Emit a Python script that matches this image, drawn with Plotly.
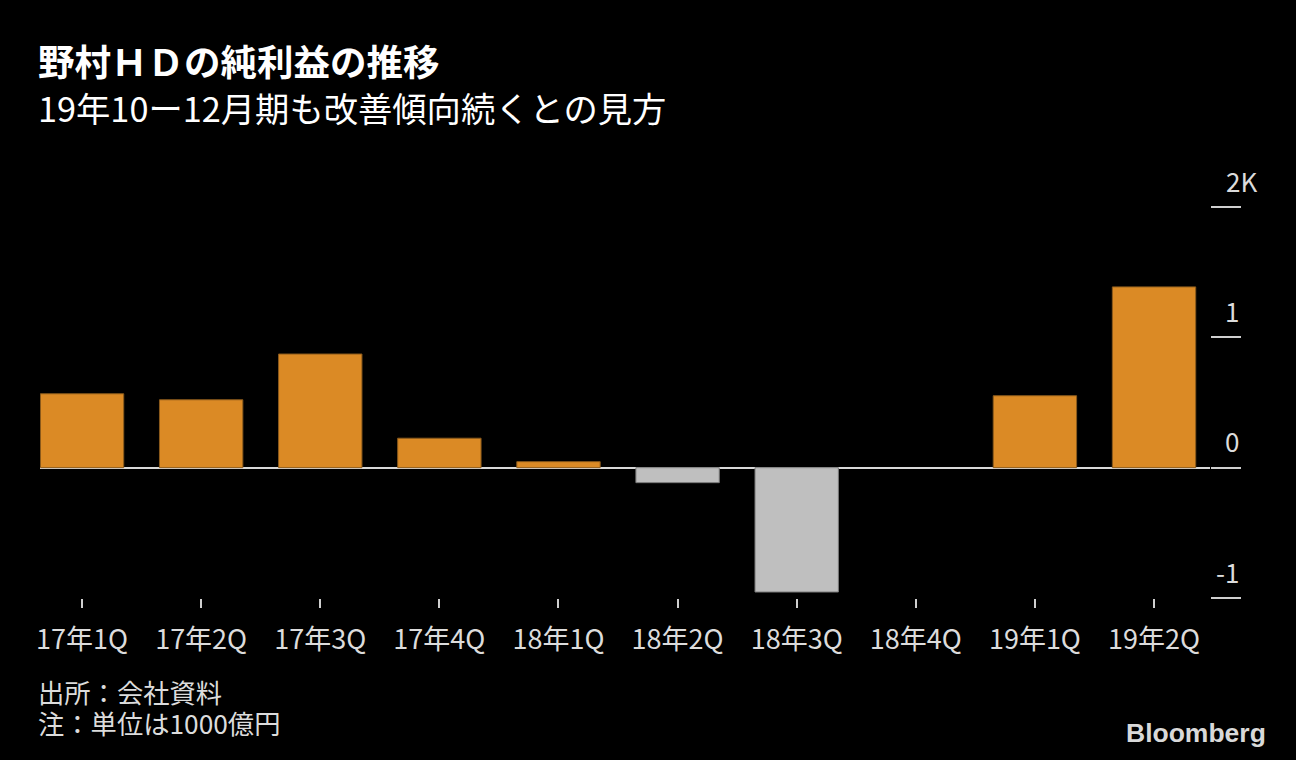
import plotly.graph_objects as go

# 野村HD 四半期純利益（単位: 1000億円）
quarters = ["17年1Q", "17年2Q", "17年3Q", "17年4Q", "18年1Q",
            "18年2Q", "18年3Q", "18年4Q", "19年1Q", "19年2Q"]
net_income = [0.567, 0.521, 0.872, 0.226, 0.046,
              -0.115, -0.954, 0.0, 0.552, 1.387]

ytick_vals = [-1, 0, 1, 2]
ytick_text = ["-1", "0", "1", "2K"]

FONT = "Noto Sans CJK JP"
TEXT = "#dcdcdc"
ORANGE = "#db8a25"
GRAY = "#bfbfbf"

bar_colors = [ORANGE if v >= 0 else GRAY for v in net_income]
line_colors = ["#8a5a1c" if v >= 0 else "#7a7a7a" for v in net_income]
line_widths = [0 if v == 0 else 1 for v in net_income]

fig = go.Figure()
fig.add_trace(go.Bar(
    x=quarters,
    y=net_income,
    marker=dict(color=bar_colors, line=dict(color=line_colors, width=line_widths)),
    width=0.7,
    hoverinfo="x+y",
))

# y軸ラベル（目盛り線の上に配置）
annotations = []
for v, t in zip(ytick_vals, ytick_text):
    shift = 31 + (18 if t.endswith("K") else 0)
    annotations.append(dict(
        x=1, xref="paper", y=v, yref="y", text=t, showarrow=False,
        xanchor="right", yanchor="middle", xshift=shift, yshift=27,
        font=dict(family=FONT, size=26, color=TEXT),
    ))

annotations += [
    dict(x=0, xref="paper", y=1.375, yref="paper", xshift=-4,
         text="<b>野村ＨＤの純利益の推移</b>", showarrow=False,
         xanchor="left", yanchor="middle",
         font=dict(family=FONT, size=36.5, color="#ffffff")),
    dict(x=0, xref="paper", y=1.256, yref="paper", xshift=-4,
         text="19年10ー12月期も改善傾向続くとの見方", showarrow=False,
         xanchor="left", yanchor="middle",
         font=dict(family=FONT, size=34.3, color="#ffffff")),
    dict(x=0, xref="paper", y=-0.2404, yref="paper", xshift=-4,
         text="出所：会社資料", showarrow=False,
         xanchor="left", yanchor="middle",
         font=dict(family=FONT, size=26.3, color=TEXT)),
    dict(x=0, xref="paper", y=-0.318, yref="paper", xshift=-4,
         text="注：単位は1000億円", showarrow=False,
         xanchor="left", yanchor="middle",
         font=dict(family=FONT, size=26.3, color=TEXT)),
    dict(x=1.0496, xref="paper", y=-0.345, yref="paper",
         text="<b>Bloomberg</b>", showarrow=False,
         xanchor="right", yanchor="middle",
         font=dict(family="Liberation Sans", size=26.5, color="#d9d9d9")),
]

fig.update_layout(
    width=1296,
    height=760,
    paper_bgcolor="#000000",
    plot_bgcolor="#000000",
    margin=dict(l=40, r=86, t=207, b=162),
    showlegend=False,
    bargap=0.3,
    annotations=annotations,
    font=dict(family=FONT, color=TEXT),
)

fig.update_xaxes(
    type="category",
    range=[-0.353, 9.47],
    showgrid=False,
    showline=False,
    ticks="outside",
    ticklen=9,
    tickwidth=1.5,
    tickcolor="#cfcfcf",
    ticklabelstandoff=9,
    tickfont=dict(family=FONT, size=27, color=TEXT),
)

fig.update_yaxes(
    range=[-1, 2],
    side="right",
    tickvals=ytick_vals,
    showticklabels=False,
    ticks="outside",
    ticklen=30,
    tickwidth=1.5,
    tickcolor="#cfcfcf",
    showgrid=False,
    showline=False,
    zeroline=True,
    zerolinecolor="#d8d8d8",
    zerolinewidth=2,
)

fig.write_html(
    "out.html",
    config={"displayModeBar": False},
    post_script="document.body.style.margin='0';document.body.style.background='#000';",
)
